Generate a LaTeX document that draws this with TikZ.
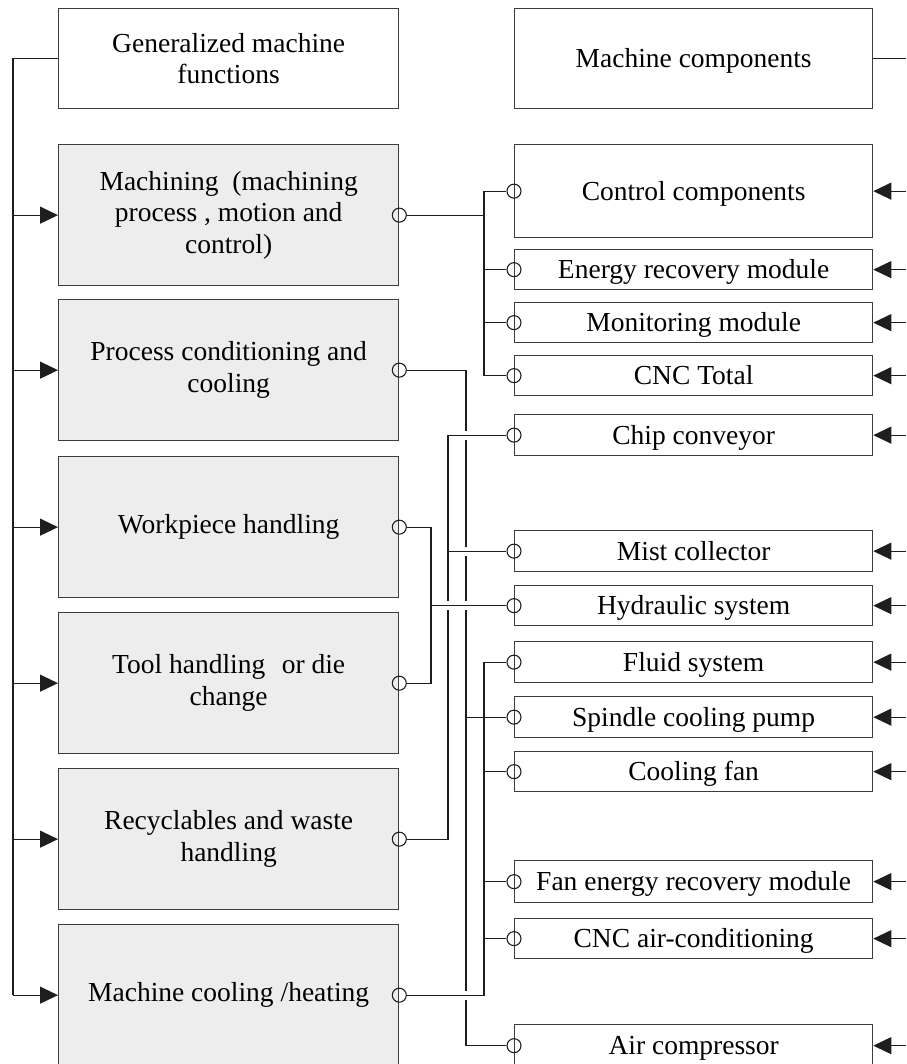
\documentclass[tikz,border=0pt]{standalone}
\usepackage{fontspec}
\setmainfont{Liberation Serif}
\usetikzlibrary{arrows.meta,calc}
\definecolor{boxfill}{HTML}{EDEDED}
\definecolor{edge}{HTML}{3C3C3C}
\definecolor{wire}{HTML}{1E1E1E}
\begin{document}
\begin{tikzpicture}[x=1pt,y=-1pt,
  box/.style={draw=edge, line width=1.3pt, align=center, inner sep=0pt, anchor=north west,
              font=\fontsize{27.5}{31.5}\selectfont, text=black},
  lbox/.style={box, fill=boxfill, minimum width=340pt, minimum height=141pt},
  rbox/.style={box, fill=white, minimum width=358pt, text height=18.2pt, text depth=0pt},
  port/.style={circle, draw=wire, line width=1.1pt, minimum size=14pt, inner sep=0pt},
  conn/.style={draw=wire, line width=1.2pt},
  arr/.style={conn, -{Triangle[length=18pt,width=17pt]}}]
\useasboundingbox (0,0) rectangle (906,1064);
\clip (0,0) rectangle (906,1064);

% headers
\node[lbox, fill=white, minimum height=100pt] (gen) at (58,8) {Generalized machine\\functions};
\node[rbox, minimum height=100pt] (comp) at (514,8) {Machine components};

% left column
\node[lbox] (mach) at (58,144) {Machining\ \ (machining\\process , motion and\\control)};
\node[lbox] (proc) at (58,299) {Process conditioning and\\cooling};
\node[lbox] (work) at (58,456) {Workpiece handling};
\node[lbox] (tool) at (58,612) {Tool handling\hspace{0.6em}or die\\change};
\node[lbox] (recy) at (58,768) {Recyclables and waste\\handling};
\node[lbox] (cool) at (58,924) {Machine cooling /heating};

% right column
\node[rbox, minimum height=93pt] (ctrl) at (514,144) {Control components};
\node[rbox, minimum height=40pt] (ener) at (514,249) {Energy recovery module};
\node[rbox, minimum height=40pt] (mon) at (514,302) {Monitoring module};
\node[rbox, minimum height=40pt] (cnc) at (514,355) {CNC Total};
\node[rbox, minimum height=41pt] (chip) at (514,414) {Chip conveyor};
\node[rbox, minimum height=41pt] (mist) at (514,530) {Mist collector};
\node[rbox, minimum height=40pt] (hyd) at (514,585) {Hydraulic system};
\node[rbox, minimum height=41pt] (fluid) at (514,641) {Fluid system};
\node[rbox, minimum height=41pt] (spin) at (514,696) {Spindle cooling pump};
\node[rbox, minimum height=40pt] (fan) at (514,751) {Cooling fan};
\node[rbox, minimum height=42pt] (fane) at (514,860) {Fan energy recovery module};
\node[rbox, minimum height=40pt] (airc) at (514,918) {CNC air-conditioning};
\node[rbox, minimum height=42pt] (acomp) at (514,1024) {Air compressor};

% ports
\foreach \n in {mach,proc,work,tool,recy,cool}
  \node[port] (p\n) at (\n.east) {};
\foreach \n in {ctrl,ener,mon,cnc,chip,mist,hyd,fluid,spin,fan,fane,airc,acomp}
  \node[port] (p\n) at (\n.west) {};

% bus coordinates
\coordinate (L) at (13,0);
\coordinate (R) at (906,0);
\coordinate (xa) at (431,0);
\coordinate (xb) at (448,0);
\coordinate (xc) at (466,0);
\coordinate (xd) at (484,0);

% left bus and arrows
\draw[conn] (gen.west) -- (L |- gen.west) -- (L |- cool.west);
\foreach \n in {mach,proc,work,tool,recy,cool}
  \draw[arr] (L |- \n.west) -- (\n.west);

% right side
\draw[conn] (comp.east) -- (R |- comp.east);
\foreach \n in {ctrl,ener,mon,cnc,chip,mist,hyd,fluid,spin,fan,fane,airc,acomp}
  \draw[arr] (R |- \n.east) -- (\n.east);

% machining
\draw[conn] (pmach.east) -- (xd |- pmach.east);
\draw[conn] (pctrl.west) -- (xd |- pctrl.west) -- (xd |- pcnc.west) -- (pcnc.west);
\draw[conn] (xd |- pener.west) -- (pener.west);
\draw[conn] (xd |- pmon.west) -- (pmon.west);

% process conditioning (with line jumps)
\draw[conn] (pproc.east) -- (xc |- pproc.east) -- ($(xc |- pchip.west)+(0,-4.5)$);
\draw[conn] ($(xc |- pchip.west)+(0,4.5)$) -- ($(xc |- pmist.west)+(0,-4.5)$);
\draw[conn] ($(xc |- pmist.west)+(0,4.5)$) -- ($(xc |- phyd.west)+(0,-4.5)$);
\draw[conn] ($(xc |- phyd.west)+(0,4.5)$) -- ($(xc |- pcool.east)+(0,-4.5)$);
\draw[conn] ($(xc |- pcool.east)+(0,4.5)$) -- (xc |- pacomp.west) -- (pacomp.west);
\draw[conn] (xc |- pspin.west) -- (pspin.west);

% workpiece and tool handling
\draw[conn] (pwork.east) -- (xa |- pwork.east) -- (xa |- ptool.east) -- (ptool.east);
\draw[conn] (xa |- phyd.west) -- (phyd.west);

% recyclables
\draw[conn] (precy.east) -- (xb |- precy.east) -- ($(xb |- phyd.west)+(0,4.5)$);
\draw[conn] ($(xb |- phyd.west)+(0,-4.5)$) -- (xb |- pchip.west) -- (pchip.west);
\draw[conn] (xb |- pmist.west) -- (pmist.west);

% machine cooling
\draw[conn] (pcool.east) -- (xd |- pcool.east) -- (xd |- pfluid.west) -- (pfluid.west);
\draw[conn] (xd |- pfan.west) -- (pfan.west);
\draw[conn] (xd |- pfane.west) -- (pfane.west);
\draw[conn] (xd |- pairc.west) -- (pairc.west);
\end{tikzpicture}
\end{document}
